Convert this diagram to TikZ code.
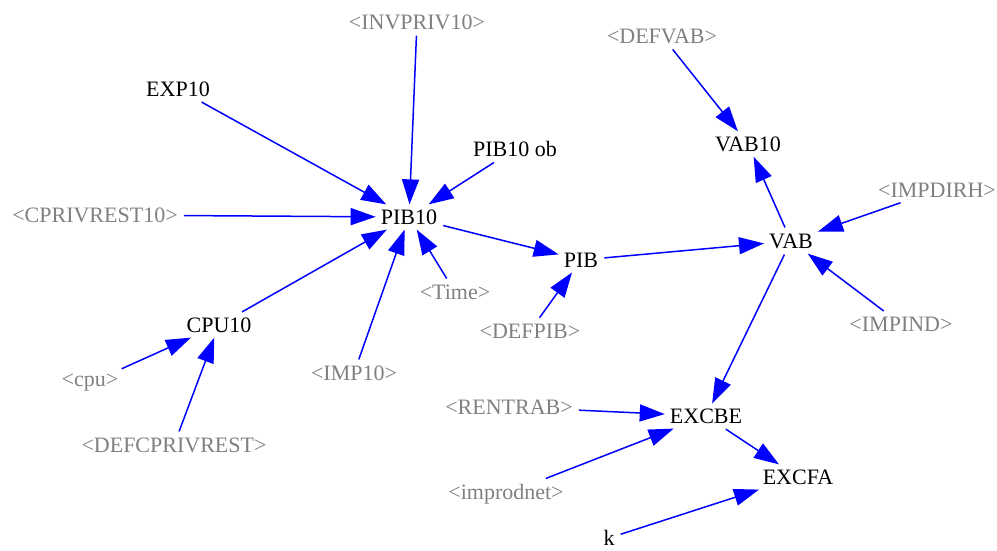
\documentclass[tikz,border=0pt]{standalone}
\usepackage{fontspec}
\setmainfont{Liberation Serif}
\usetikzlibrary{arrows.meta}
\begin{document}
\begin{tikzpicture}[x=1pt,y=-1pt,
  lbl/.style={inner sep=5pt,font=\fontsize{22}{24}\selectfont,text=black},
  ext/.style={lbl,text={rgb,255:red,128;green,128;blue,128}},
  edge/.style={draw={rgb,255:red,0;green,0;blue,255},line width=1.5pt,
    -{Triangle[length=25pt,width=17pt]},
    shorten <=1pt}]
\useasboundingbox (0,0) rectangle (997,551);
\node[ext] (invpriv) at (417,22) {<INVPRIV10>};
\node[lbl] (exp) at (178,89) {EXP10};
\node[lbl] (pibob) at (515,149) {PIB10 ob};
\node[ext] (cpriv) at (95,215) {<CPRIVREST10>};
\node[lbl] (pib10) at (409,217) {PIB10};
\node[ext] (time) at (455,292) {<Time>};
\node[lbl] (pib) at (581,260) {PIB};
\node[ext] (defpib) at (530,331) {<DEFPIB>};
\node[lbl] (cpu10) at (219,325) {CPU10};
\node[ext] (imp10) at (354,373) {<IMP10>};
\node[ext] (cpu) at (90,383) {<cpu>};
\node[ext] (defcpriv) at (174,445) {<DEFCPRIVREST>};
\node[ext] (defvab) at (662,36) {<DEFVAB>};
\node[lbl] (vab10) at (748,144) {VAB10};
\node[ext] (impdirh) at (937,190) {<IMPDIRH>};
\node[lbl] (vab) at (791,241) {VAB};
\node[ext] (impind) at (901,324) {<IMPIND>};
\node[ext] (rentrab) at (509,407) {<RENTRAB>};
\node[lbl] (excbe) at (706,416) {EXCBE};
\node[lbl] (excfa) at (798,477) {EXCFA};
\node[ext] (improd) at (506,494) {<improdnet>};
\node[lbl] (k) at (609,538) {k};
\path[edge] (exp) -- (pib10);
\path[edge] (invpriv) -- (pib10);
\path[edge] (pibob) -- (pib10);
\path[edge] (cpriv) -- (pib10);
\path[edge] (cpu10) -- (pib10);
\path[edge] (imp10) -- (pib10);
\path[edge] (time) -- (pib10);
\path[edge] (pib10) -- (pib);
\path[edge] (defpib) -- (pib);
\path[edge] (pib) -- (vab);
\path[edge] (defvab) -- (vab10);
\path[edge] (vab) -- (vab10);
\path[edge] (impdirh) -- (vab);
\path[edge] (impind) -- (vab);
\path[edge] (vab) -- (excbe);
\path[edge] (rentrab) -- (excbe);
\path[edge] (improd) -- (excbe);
\path[edge] (excbe) -- (excfa);
\path[edge] (k) -- (excfa);
\path[edge] (cpu) -- (cpu10);
\path[edge] (defcpriv) -- (cpu10);
\end{tikzpicture}
\end{document}
